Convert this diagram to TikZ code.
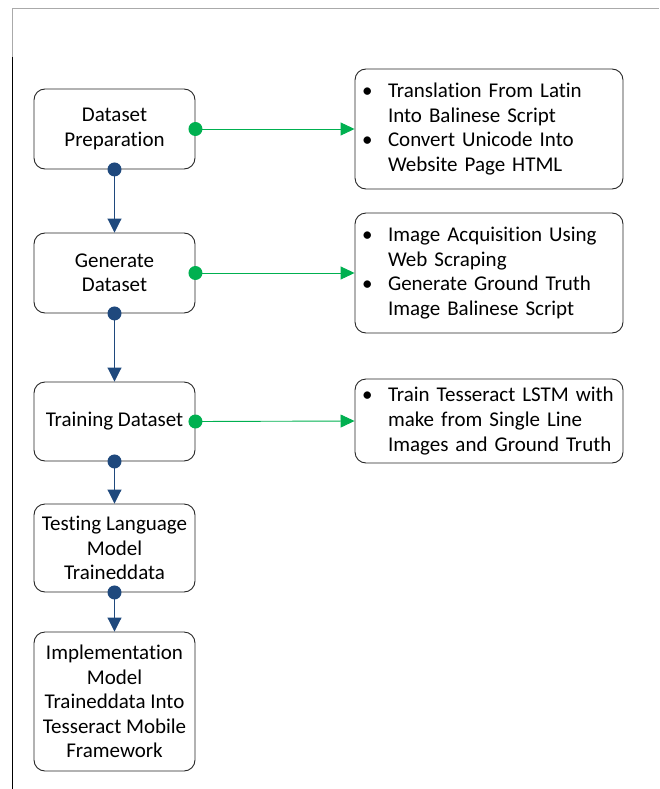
\documentclass[tikz,border=0pt]{standalone}
\usepackage{fontspec}
\setmainfont{Carlito}[Ligatures=NoCommon]
\usetikzlibrary{arrows.meta}
\definecolor{flowblue}{RGB}{31,73,125}
\definecolor{flowgreen}{RGB}{0,176,80}
\definecolor{framegray}{RGB}{170,170,170}
\newcommand\bulmark{\makebox[26pt][l]{\textbullet}}
\newcommand\bulpad{\hspace*{26pt}}
\tikzset{
  stepbox/.style={draw=black!85, line width=0.9pt, rounded corners=11pt,
    minimum width=161pt, align=center, inner sep=2pt,
    font=\fontsize{21}{24.5}\selectfont},
  notebox/.style={draw=black!85, line width=0.9pt, rounded corners=11pt,
    minimum width=268pt, text width=254pt, align=left, inner xsep=7pt,
    font=\fontsize{21}{24.8}\selectfont},
  downlink/.style={draw=flowblue, line width=0.9pt,
    -{Triangle[length=14pt,width=14pt]}},
  sidelink/.style={draw=flowgreen, line width=0.9pt,
    -{Triangle[length=14pt,width=13pt]}},
  bluedot/.style={fill=flowblue},
  greendot/.style={fill=flowgreen}
}
\begin{document}
\begin{tikzpicture}[x=1pt,y=-1pt]
  \useasboundingbox (0,0) rectangle (659,789);
  % page frame
  \draw[framegray, line width=1pt] (12,9) -- (659,9);
  \draw[framegray, line width=1pt] (12,9) -- (12,57);
  \draw[black, line width=1pt] (12,57) -- (12,789);

  % main flow
  \node[stepbox, minimum height=80pt]  (prep)  at (114.5,129)   {Dataset\\Preparation};
  \node[stepbox, minimum height=80pt]  (gen)   at (114.5,273)   {Generate\\Dataset};
  \node[stepbox, minimum height=79pt]  (train) at (114.5,421.5) {Training Dataset};
  \node[stepbox, minimum height=88pt]  (test)  at (114.5,548)   {Testing Language\\Model\\Traineddata};
  \node[stepbox, minimum height=139pt] (impl)  at (114.5,701.5) {Implementation\\Model\\Traineddata Into\\Tesseract Mobile\\Framework};

  % notes
  \node[notebox, minimum height=120pt] (n1) at (489,129)
    {\bulmark Translation From Latin\\\bulpad Into Balinese Script\\\bulmark Convert Unicode Into\\\bulpad Website Page HTML};
  \node[notebox, minimum height=120pt] (n2) at (489,273)
    {\bulmark Image Acquisition Using\\\bulpad Web Scraping\\\bulmark Generate Ground Truth\\\bulpad Image Balinese Script};
  \node[notebox, minimum height=84pt] (n3) at (489,421)
    {\bulmark Train Tesseract LSTM with\\\bulpad make from Single Line\\\bulpad Images and Ground Truth};

  % flow connectors
  \draw[downlink] (prep.south)  -- (gen.north);
  \draw[downlink] (gen.south)   -- (train.north);
  \draw[downlink] (train.south) -- (test.north);
  \draw[downlink] (test.south)  -- (impl.north);
  \foreach \n in {prep,gen,train,test}
    \fill[bluedot] (\n.south) circle (7pt);

  % note connectors
  \draw[sidelink] (prep.east)  -- (n1.west);
  \draw[sidelink] (gen.east)   -- (n2.west);
  \draw[sidelink] (train.east) -- (n3.west);
  \foreach \n in {prep,gen,train}
    \fill[greendot] (\n.east) circle (7pt);
\end{tikzpicture}
\end{document}
